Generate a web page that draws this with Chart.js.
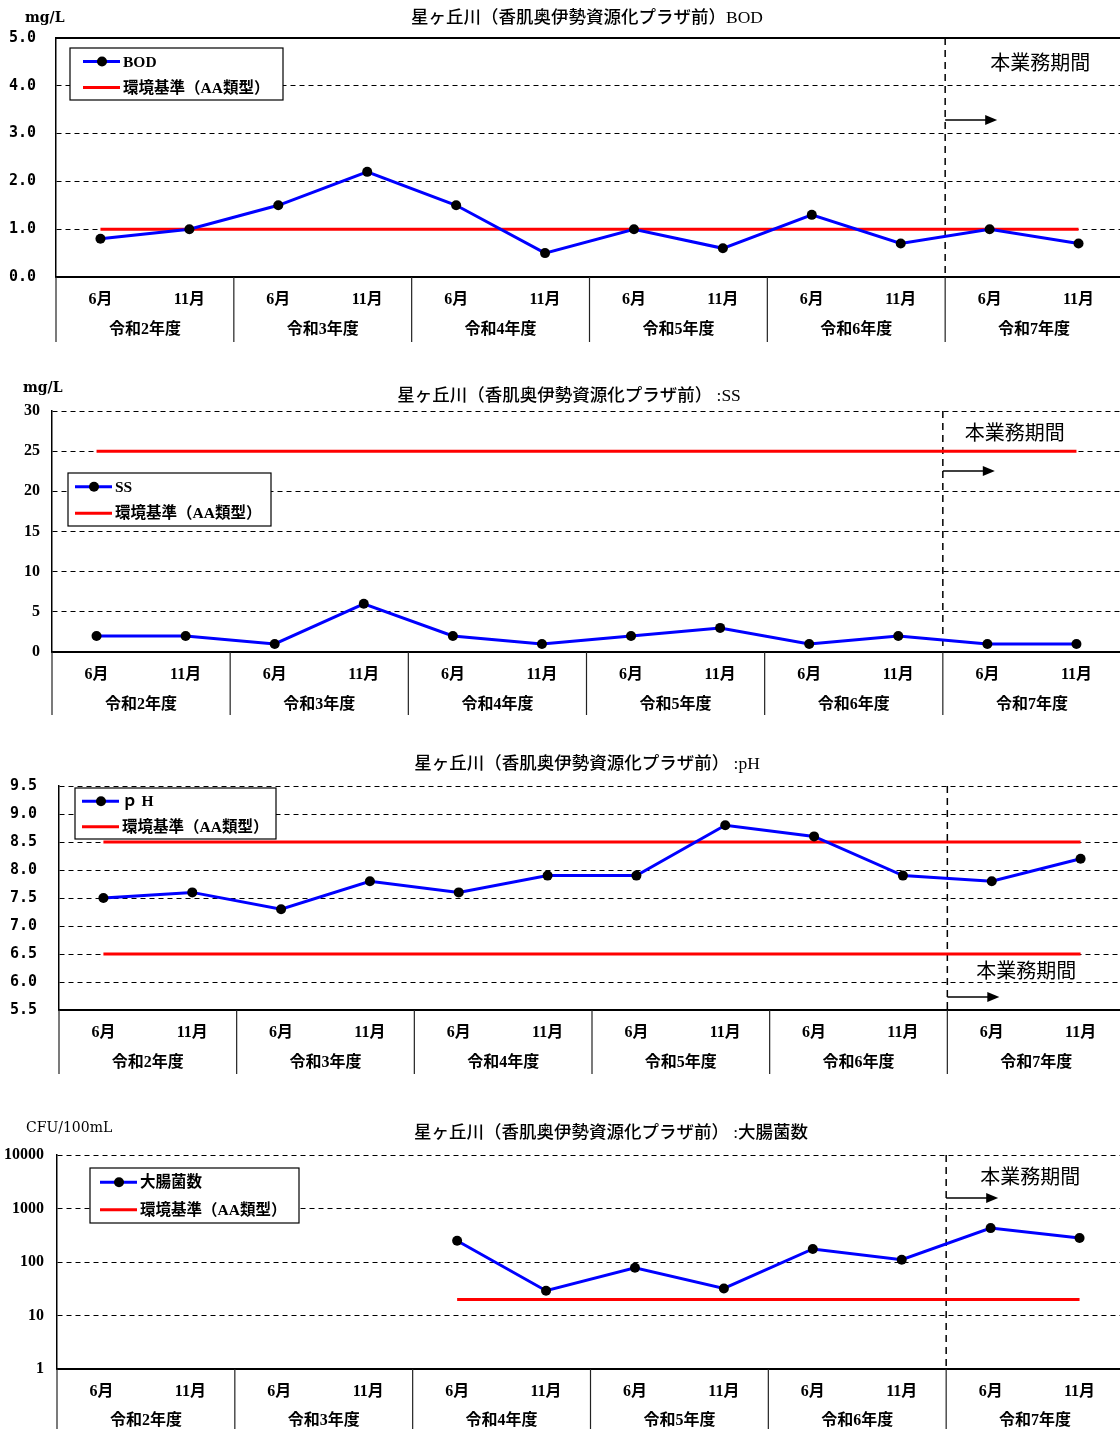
<!DOCTYPE html>
<html><head><meta charset="utf-8">
<script src="https://cdn.jsdelivr.net/npm/chart.js@4"></script>
<style>
html,body{margin:0;padding:0;background:#fff;width:1120px;height:1432px;overflow:hidden;}
.wrap{position:absolute;left:0;width:1130px;}
canvas{display:block;}
</style></head><body>
<div class="wrap" style="top:0"><canvas id="c1" width="1130" height="345"></canvas></div>
<div class="wrap" style="top:372px"><canvas id="c2" width="1130" height="346"></canvas></div>
<div class="wrap" style="top:745px"><canvas id="c3" width="1130" height="332"></canvas></div>
<div class="wrap" style="top:1105px"><canvas id="c4" width="1130" height="327"></canvas></div>
<script>
// ---- data ----
const months = ['6月','11月','6月','11月','6月','11月','6月','11月','6月','11月','6月','11月'];
const years = ['令和2年度','令和3年度','令和4年度','令和5年度','令和6年度','令和7年度'];
const bodValues = [0.8, 1.0, 1.5, 2.2, 1.5, 0.5, 1.0, 0.6, 1.3, 0.7, 1.0, 0.7];
const bodStandard = [1,1,1,1,1,1,1,1,1,1,1,1];
const ssValues = [2, 2, 1, 6, 2, 1, 2, 3, 1, 2, 1, 1];
const ssStandard = [25,25,25,25,25,25,25,25,25,25,25,25];
const phValues = [7.5, 7.6, 7.3, 7.8, 7.6, 7.9, 7.9, 8.8, 8.6, 7.9, 7.8, 8.2];
const phUpper = [8.5,8.5,8.5,8.5,8.5,8.5,8.5,8.5,8.5,8.5,8.5,8.5];
const phLower = [6.5,6.5,6.5,6.5,6.5,6.5,6.5,6.5,6.5,6.5,6.5,6.5];
const ecoliValues = [null, null, null, null, 250, 29, 78, 32, 175, 110, 430, 280];
const ecoliStandard = [null, null, null, null, 20, 20, 20, 20, 20, 20, 20, 20];
const bodTicks = [0,1,2,3,4,5];
const ssTicks = [0,5,10,15,20,25,30];
const phTicks = [5.5,6,6.5,7,7.5,8,8.5,9,9.5];
const ecoliTicks = [1,10,100,1000,10000];
const periodStartIndex = 10;

const JP = '"Noto Sans CJK JP", sans-serif';
const MIX = '"Liberation Serif", "Noto Sans CJK JP", serif';

function boundary(x, i) {
  const step = x.getPixelForValue(1) - x.getPixelForValue(0);
  if (i <= 0) return x.getPixelForValue(0) - step / 2;
  if (i >= months.length) return x.getPixelForValue(months.length - 1) + step / 2;
  return (x.getPixelForValue(i - 1) + x.getPixelForValue(i)) / 2;
}

const decor = {
  id: 'decor',
  beforeDatasetsDraw(chart, args, o) {
    const ctx = chart.ctx, a = chart.chartArea, x = chart.scales.x;
    const bx = boundary(x, periodStartIndex);
    ctx.save();
    ctx.strokeStyle = '#000'; ctx.lineWidth = 1.5; ctx.setLineDash([7, 5]);
    ctx.beginPath(); ctx.moveTo(bx, a.top); ctx.lineTo(bx, a.bottom); ctx.stroke();
    ctx.restore();
  },
  afterDraw(chart, args, o) {
    const ctx = chart.ctx, a = chart.chartArea, x = chart.scales.x, H = chart.height;
    ctx.save();
    if (o.topSolid) {
      ctx.strokeStyle = '#000'; ctx.lineWidth = 2;
      ctx.beginPath(); ctx.moveTo(a.left, a.top); ctx.lineTo(a.right + 10, a.top); ctx.stroke();
    }
    // group separators and year labels
    ctx.strokeStyle = '#222'; ctx.lineWidth = 1.2;
    for (let g = 0; g <= years.length; g++) {
      const px = boundary(x, g * 2);
      ctx.beginPath(); ctx.moveTo(px, a.bottom); ctx.lineTo(px, H - 3); ctx.stroke();
    }
    ctx.fillStyle = '#000'; ctx.font = 'bold 16px ' + MIX; ctx.textAlign = 'center'; ctx.textBaseline = 'middle';
    years.forEach((y, g) => {
      const cx = (x.getPixelForValue(g * 2) + x.getPixelForValue(g * 2 + 1)) / 2;
      ctx.fillText(y, cx, a.bottom + o.yearDy);
    });
    // title
    ctx.font = '500 17.5px ' + MIX; ctx.textAlign = 'center';
    ctx.fillText(o.title, o.titleX, o.titleY);
    // unit
    if (o.unit) {
      ctx.font = o.unitFont; ctx.textAlign = 'left';
      ctx.fillText(o.unit, o.unitX, o.unitY);
    }
    // period annotation
    const bx = boundary(x, periodStartIndex);
    ctx.font = '20px ' + JP; ctx.textAlign = 'center';
    ctx.fillText('本業務期間', bx + o.periodDx, o.periodY);
    ctx.strokeStyle = '#000'; ctx.lineWidth = 1.5;
    ctx.beginPath(); ctx.moveTo(bx, o.arrowY); ctx.lineTo(bx + 42, o.arrowY); ctx.stroke();
    ctx.beginPath(); ctx.moveTo(bx + 52, o.arrowY); ctx.lineTo(bx + 40, o.arrowY - 5); ctx.lineTo(bx + 40, o.arrowY + 5); ctx.closePath(); ctx.fill();
    // legend
    const L = o.legend;
    ctx.fillStyle = '#fff'; ctx.fillRect(L.x, L.y, L.w, L.h);
    ctx.strokeStyle = '#000'; ctx.lineWidth = 1.2; ctx.strokeRect(L.x, L.y, L.w, L.h);
    const rows = [L.y + L.h * 0.26, L.y + L.h * 0.76];
    ctx.strokeStyle = '#0000FF'; ctx.lineWidth = 3;
    ctx.beginPath(); ctx.moveTo(L.lx, rows[0]); ctx.lineTo(L.lx + 37, rows[0]); ctx.stroke();
    ctx.fillStyle = '#000';
    ctx.beginPath(); ctx.arc(L.lx + 19, rows[0], 5, 0, Math.PI * 2); ctx.fill();
    ctx.strokeStyle = '#FF0000';
    ctx.beginPath(); ctx.moveTo(L.lx, rows[1]); ctx.lineTo(L.lx + 37, rows[1]); ctx.stroke();
    ctx.textAlign = 'left'; ctx.font = 'bold 15.5px ' + MIX;
    ctx.fillText(o.seriesName, L.lx + 40, rows[0] + 1);
    ctx.fillText('環境基準（AA類型）', L.lx + 40, rows[1] + 1);
    ctx.restore();
  }
};

function make(id, cfg) {
  const datasets = cfg.lines.map(l => ({
    label: l.label, data: l.data,
    borderColor: l.color, backgroundColor: l.color, borderWidth: 3,
    pointRadius: l.points ? 5 : 0, pointBackgroundColor: '#000', pointBorderColor: '#000', pointBorderWidth: 0,
    pointHoverRadius: 0, tension: 0, spanGaps: false, order: l.points ? 0 : 1
  }));
  const yOpts = {
    type: cfg.log ? 'logarithmic' : 'linear',
    min: cfg.ticks[0], max: cfg.ticks[cfg.ticks.length - 1],
    afterBuildTicks: s => { s.ticks = cfg.ticks.map(v => ({ value: v })); },
    afterFit: s => { s.width = cfg.left; },
    grid: { color: '#000', lineWidth: 1, drawTicks: false },
    border: { display: true, color: '#000', width: 1.5, dash: [5, 4] },
    ticks: { padding: cfg.tickPad, color: '#000', font: cfg.tickFont, callback: v => cfg.fmt(v) }
  };
  return new Chart(document.getElementById(id), {
    type: 'line',
    data: { labels: months, datasets },
    options: {
      responsive: false, animation: false, devicePixelRatio: 1,
      layout: { padding: { top: cfg.top, right: cfg.right, left: 0, bottom: 0 } },
      plugins: { legend: { display: false }, tooltip: { enabled: false }, title: { display: false }, decor: cfg.decor },
      scales: {
        x: {
          offset: true,
          afterFit: s => { s.height = cfg.xh; },
          grid: { display: false, offset: true },
          border: { display: true, color: '#000', width: 2 },
          ticks: { color: '#000', padding: 5, maxRotation: 0, autoSkip: false, font: { family: MIX, size: 16, weight: 'bold' } }
        },
        y: yOpts
      }
    },
    plugins: [decor]
  });
}

make('c1', {
  top: 38, right: 7, left: 56, xh: 345 - 277, ticks: bodTicks, tickPad: 20,
  tickFont: { family: '"DejaVu Sans Mono", monospace', size: 15, weight: 'bold' },
  fmt: v => v.toFixed(1),
  lines: [
    { label: 'BOD', data: bodValues, color: '#0000FF', points: true },
    { label: '環境基準（AA類型）', data: bodStandard, color: '#FF0000', points: false }
  ],
  decor: { topSolid: true, yearDy: 53, title: '星ヶ丘川（香肌奥伊勢資源化プラザ前）BOD', titleX: 587, titleY: 18,
    unit: 'mg/L', unitX: 25, unitY: 18, unitFont: 'bold 14px "DejaVu Serif", serif',
    periodDx: 95, periodY: 62, arrowY: 120, seriesName: 'BOD',
    legend: { x: 70, y: 48, w: 213, h: 52, lx: 83 } }
});

make('c2', {
  top: 39, right: 9, left: 52, xh: 346 - 280, ticks: ssTicks, tickPad: 12,
  tickFont: { family: '"Liberation Serif", serif', size: 16, weight: 'bold' },
  fmt: v => String(v),
  lines: [
    { label: 'SS', data: ssValues, color: '#0000FF', points: true },
    { label: '環境基準（AA類型）', data: ssStandard, color: '#FF0000', points: false }
  ],
  decor: { topSolid: false, yearDy: 53, title: '星ヶ丘川（香肌奥伊勢資源化プラザ前） :SS', titleX: 569, titleY: 24,
    unit: 'mg/L', unitX: 23, unitY: 16, unitFont: 'bold 14px "DejaVu Serif", serif',
    periodDx: 72, periodY: 60, arrowY: 99, seriesName: 'SS',
    legend: { x: 68, y: 101, w: 203, h: 53, lx: 75 } }
});

make('c3', {
  top: 41, right: 4, left: 59, xh: 332 - 265, ticks: phTicks, tickPad: 22,
  tickFont: { family: '"DejaVu Sans Mono", monospace', size: 15, weight: 'bold' },
  fmt: v => v.toFixed(1),
  lines: [
    { label: 'pH', data: phValues, color: '#0000FF', points: true },
    { label: '環境基準（AA類型）', data: phUpper, color: '#FF0000', points: false },
    { label: '環境基準（AA類型）', data: phLower, color: '#FF0000', points: false }
  ],
  decor: { topSolid: false, yearDy: 53, title: '星ヶ丘川（香肌奥伊勢資源化プラザ前） :pH', titleX: 587, titleY: 19,
    unit: '', periodDx: 79, periodY: 225, arrowY: 252, seriesName: 'ｐ H',
    legend: { x: 75, y: 43, w: 201, h: 51, lx: 82 } }
});

make('c4', {
  top: 50, right: 6, left: 57, xh: 327 - 264, ticks: ecoliTicks, tickPad: 13, log: true,
  tickFont: { family: '"Liberation Serif", serif', size: 16, weight: 'bold' },
  fmt: v => String(v),
  lines: [
    { label: '大腸菌数', data: ecoliValues, color: '#0000FF', points: true },
    { label: '環境基準（AA類型）', data: ecoliStandard, color: '#FF0000', points: false }
  ],
  decor: { topSolid: false, yearDy: 52, title: '星ヶ丘川（香肌奥伊勢資源化プラザ前） :大腸菌数', titleX: 611, titleY: 28,
    unit: 'CFU/100mL', unitX: 26, unitY: 23, unitFont: '14px "DejaVu Serif", serif',
    periodDx: 84, periodY: 71, arrowY: 93, seriesName: '大腸菌数',
    legend: { x: 90, y: 63, w: 209, h: 55, lx: 100 } }
});
</script>
</body></html>
